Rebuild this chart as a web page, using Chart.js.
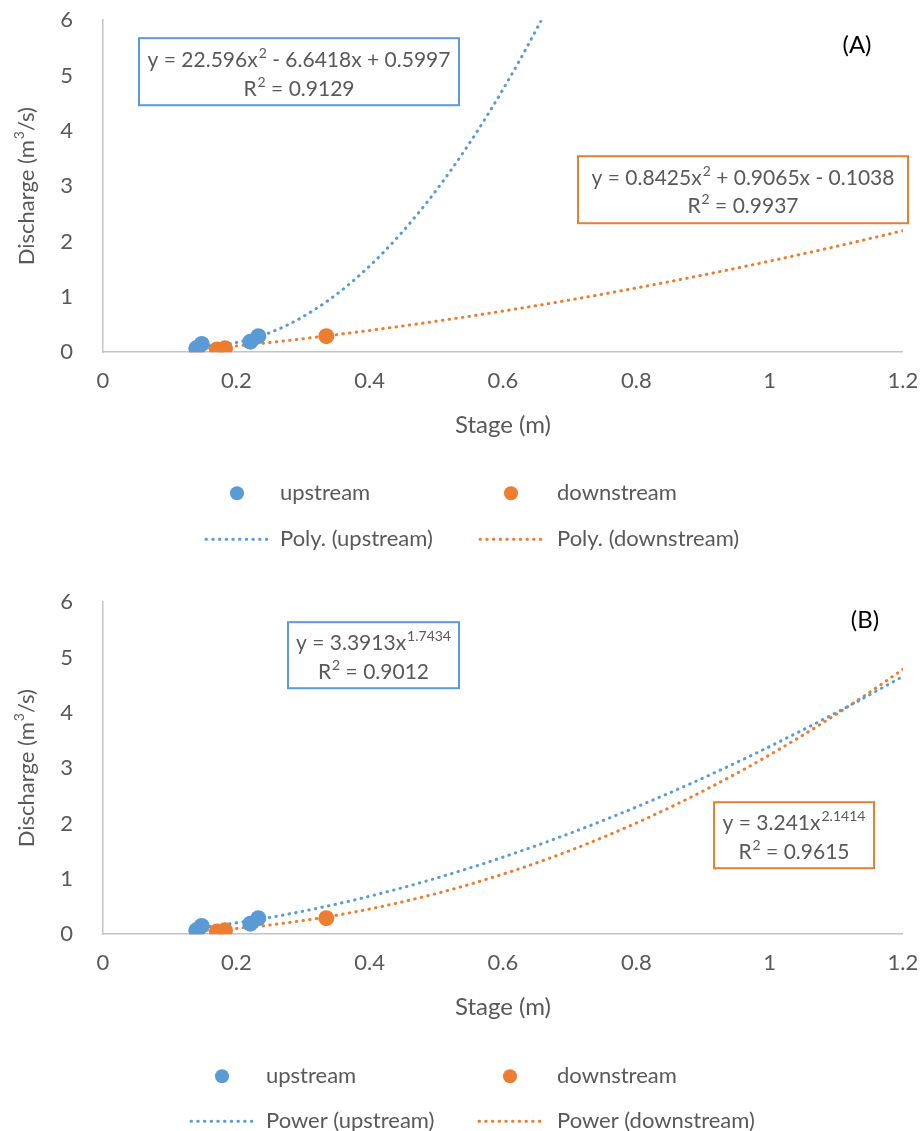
<!DOCTYPE html>
<html>
<head>
<meta charset="utf-8">
<script src="https://cdn.jsdelivr.net/npm/chart.js@4.4.1/dist/chart.umd.min.js"></script>
<style>
  html, body { margin: 0; padding: 0; background: #fff; overflow: hidden; width: 924px; height: 1131px; }
  .wrap { position: absolute; left: 0; width: 924px; height: 565px; }
</style>
</head>
<body>
<div class="wrap" id="wrapA" style="top:0"><canvas id="chartA"></canvas></div>
<div class="wrap" id="wrapB" style="top:582px"><canvas id="chartB"></canvas></div>
<script>
// measured points (stage m, discharge m3/s)
const upstreamX = [0.140, 0.148, 0.221, 0.233];
const upstreamY = [0.07, 0.15, 0.19, 0.29];
const downstreamX = [0.141, 0.171, 0.183, 0.335];
const downstreamY = [0.00, 0.05, 0.07, 0.29];

// trendline coefficients as printed on the chart
const polyUp = [22.596, -6.6418, 0.5997];
const polyDown = [0.8425, 0.9065, -0.1038];
const powerUp = [3.3913, 1.7434];
const powerDown = [3.241, 2.1414];
const r2Poly = ['0.9129', '0.9937'];
const r2Power = ['0.9012', '0.9615'];

const xTicks = [0, 0.2, 0.4, 0.6, 0.8, 1, 1.2];
const xTickLabels = ['0', '0.2', '0.4', '0.6', '0.8', '1', '1.2'];
const yTicks = [0, 1, 2, 3, 4, 5, 6];
const yTickLabels = ['0', '1', '2', '3', '4', '5', '6'];

const BLUE = '#5B9BD5';
const ORANGE = '#ED7D31';
const GREY = '#595959';
const FONT = 'Lato, "Open Sans", sans-serif';
const DOTS = [0.5, 6.2];

// wanted plot box inside each panel
const AREA = { top: 20, bottom: 352, right: 903 };

function pts(xs, ys) {
  return xs.map((x, i) => ({ x: x, y: ys[i] }));
}

function trend(fn, x0, x1) {
  const out = [];
  for (let x = x0; x <= x1 + 1e-9; x += 0.005) {
    const y = fn(x);
    out.push({ x: x, y: y });
    if (y > 6.5) break;
  }
  return out;
}

const polyFn = c => x => c[0] * x * x + c[1] * x + c[2];
const powFn = c => x => c[0] * Math.pow(x, c[1]);

function scatterSet(label, data, color) {
  return { type: 'scatter', label: label, data: data, backgroundColor: color, borderColor: color,
    pointRadius: 8, pointHoverRadius: 8, borderWidth: 0, order: 1 };
}
function trendSet(label, data, color) {
  return { type: 'line', label: label, data: data, borderColor: color, borderWidth: 3,
    borderDash: DOTS, borderCapStyle: 'round', pointRadius: 0, fill: false, tension: 0, order: 2 };
}

// text with superscripts: parts alternate normal / superscript
function richWidth(ctx, parts, size, supSize) {
  let w = 0;
  parts.forEach((p, i) => {
    ctx.font = (i % 2 ? supSize : size) + 'px ' + FONT;
    w += ctx.measureText(p).width + (i % 2 ? 1 : 0);
  });
  return w;
}
function richText(ctx, parts, x, y, size, supSize) {
  ctx.textAlign = 'left';
  parts.forEach((p, i) => {
    const sup = i % 2 === 1;
    ctx.font = (sup ? supSize : size) + 'px ' + FONT;
    ctx.fillText(p, x + (sup ? 1 : 0), sup ? y - size * 0.33 : y);
    x += ctx.measureText(p).width + (sup ? 1 : 0);
  });
}

// draws the y title, equation boxes, panel letter and the 2x2 legend
const decoPlugin = {
  id: 'deco',
  afterDraw(chart, args, opts) {
    const ctx = chart.ctx;
    const area = chart.chartArea;
    ctx.save();
    // panel coordinates: plot top sits at AREA.top
    ctx.translate(0, area.top - AREA.top);
    ctx.textBaseline = 'middle';
    ctx.fillStyle = GREY;

    // y axis title
    ctx.save();
    ctx.translate(27, (AREA.top + AREA.bottom) / 2);
    ctx.rotate(-Math.PI / 2);
    const yt = ['Discharge (m', '3', '/s)'];
    richText(ctx, yt, -richWidth(ctx, yt, 22, 14) / 2, 0, 22, 14);
    ctx.restore();

    // equation boxes
    opts.boxes.forEach(b => {
      ctx.strokeStyle = b.color;
      ctx.lineWidth = 2;
      ctx.strokeRect(b.x, b.y, b.w, b.h);
      const cx = b.x + b.w / 2;
      b.lines.forEach((parts, i) => {
        const w = richWidth(ctx, parts, 21, 14);
        ctx.fillStyle = GREY;
        richText(ctx, parts, cx - w / 2, b.y + b.ly[i], 21, 14);
      });
    });

    // panel letter
    ctx.fillStyle = '#000';
    ctx.textAlign = 'center';
    ctx.font = '24px ' + FONT;
    ctx.fillText(opts.letter[0], opts.letter[1], opts.letter[2]);

    // legend
    ctx.textAlign = 'left';
    opts.legend.forEach(it => {
      if (it.kind === 'dot') {
        ctx.beginPath();
        ctx.fillStyle = it.color;
        ctx.arc(it.mx, it.y, 7, 0, Math.PI * 2);
        ctx.fill();
      } else {
        ctx.beginPath();
        ctx.strokeStyle = it.color;
        ctx.lineWidth = 3;
        ctx.lineCap = 'round';
        ctx.setLineDash(DOTS);
        ctx.moveTo(it.x0, it.y);
        ctx.lineTo(it.x1, it.y);
        ctx.stroke();
        ctx.setLineDash([]);
      }
      ctx.fillStyle = GREY;
      ctx.font = '22px ' + FONT;
      ctx.fillText(it.text, it.tx, it.y);
    });
    ctx.restore();
  }
};

function makeChart(id, sets, deco) {
  return new Chart(document.getElementById(id), {
    type: 'scatter',
    data: { datasets: sets },
    options: {
      responsive: true,
      maintainAspectRatio: false,
      animation: false,
      layout: { padding: { left: 0, top: 20, right: 21, bottom: 122 } },
      plugins: { legend: { display: false }, tooltip: { enabled: false }, deco: deco },
      scales: {
        x: {
          type: 'linear', min: 0, max: 1.2,
          afterBuildTicks: s => { s.ticks = xTicks.map(v => ({ value: v })); },
          afterFit: s => { s.height = 91; },
          grid: { display: false },
          border: { display: true, color: '#c4c4c4', width: 1.5 },
          ticks: { color: GREY, font: { family: FONT, size: 22 }, padding: 8, maxRotation: 0,
            callback: (v, i) => xTickLabels[i] },
          title: { display: true, text: 'Stage (m)', color: GREY, font: { family: FONT, size: 24 },
            padding: { top: 0, bottom: 4 } }
        },
        y: {
          type: 'linear', min: 0, max: 6,
          afterBuildTicks: s => { s.ticks = yTicks.map(v => ({ value: v })); },
          afterFit: s => { s.width = 103; },
          grid: { display: false },
          border: { display: true, color: '#c4c4c4', width: 1.5 },
          ticks: { color: GREY, font: { family: FONT, size: 22 }, padding: 22,
            callback: (v, i) => yTickLabels[i] }
        }
      }
    },
    plugins: [decoPlugin]
  });
}

// nudge the panel so the plot box lands where the reference has it
function place(chart, wrapId, baseTop) {
  const wrap = document.getElementById(wrapId);
  for (let k = 0; k < 2; k++) {
    const a = chart.chartArea;
    const H = wrap.clientHeight, W = wrap.clientWidth;
    wrap.style.top = (baseTop + AREA.top - a.top) + 'px';
    wrap.style.height = (H + (AREA.bottom - AREA.top) - (a.bottom - a.top)) + 'px';
    wrap.style.width = (W + AREA.right - a.right) + 'px';
    chart.resize();
  }
}

// (A) polynomial fits
const chartA = makeChart('chartA', [
  scatterSet('upstream', pts(upstreamX, upstreamY), BLUE),
  scatterSet('downstream', pts(downstreamX, downstreamY), ORANGE),
  trendSet('Poly. (upstream)', trend(polyFn(polyUp), 0.14, 1.2), BLUE),
  trendSet('Poly. (downstream)', trend(polyFn(polyDown), 0.14, 1.2), ORANGE)
], {
  letter: ['(A)', 857, 45],
  boxes: [
    { color: BLUE, x: 139, y: 38, w: 320, h: 67, ly: [22, 51],
      lines: [['y = ' + polyUp[0] + 'x', '2', ' - ' + Math.abs(polyUp[1]) + 'x + ' + polyUp[2]],
              ['R', '2', ' = ' + r2Poly[0]]] },
    { color: ORANGE, x: 578, y: 156, w: 330, h: 67, ly: [22, 50],
      lines: [['y = ' + polyDown[0] + 'x', '2', ' + ' + polyDown[1] + 'x - ' + Math.abs(polyDown[2])],
              ['R', '2', ' = ' + r2Poly[1]]] }
  ],
  legend: [
    { kind: 'dot', color: BLUE, mx: 237, y: 493, tx: 280, text: 'upstream' },
    { kind: 'dot', color: ORANGE, mx: 511, y: 493, tx: 557, text: 'downstream' },
    { kind: 'line', color: BLUE, x0: 206, x1: 268, y: 539, tx: 280, text: 'Poly. (upstream)' },
    { kind: 'line', color: ORANGE, x0: 480, x1: 542, y: 539, tx: 557, text: 'Poly. (downstream)' }
  ]
});

// (B) power fits
const chartB = makeChart('chartB', [
  scatterSet('upstream', pts(upstreamX, upstreamY), BLUE),
  scatterSet('downstream', pts(downstreamX, downstreamY), ORANGE),
  trendSet('Power (upstream)', trend(powFn(powerUp), 0.14, 1.2), BLUE),
  trendSet('Power (downstream)', trend(powFn(powerDown), 0.14, 1.2), ORANGE)
], {
  letter: ['(B)', 865, 38],
  boxes: [
    { color: BLUE, x: 288, y: 40, w: 171, h: 66, ly: [21, 50],
      lines: [['y = ' + powerUp[0] + 'x', String(powerUp[1])], ['R', '2', ' = ' + r2Power[0]]] },
    { color: ORANGE, x: 714, y: 220, w: 160, h: 66, ly: [21, 50],
      lines: [['y = ' + powerDown[0] + 'x', String(powerDown[1])], ['R', '2', ' = ' + r2Power[1]]] }
  ],
  legend: [
    { kind: 'dot', color: BLUE, mx: 222, y: 494, tx: 266, text: 'upstream' },
    { kind: 'dot', color: ORANGE, mx: 510, y: 494, tx: 557, text: 'downstream' },
    { kind: 'line', color: BLUE, x0: 191, x1: 253, y: 539, tx: 266, text: 'Power (upstream)' },
    { kind: 'line', color: ORANGE, x0: 479, x1: 542, y: 539, tx: 557, text: 'Power (downstream)' }
  ]
});

place(chartA, 'wrapA', 0);
place(chartB, 'wrapB', 582);
</script>
</body>
</html>
